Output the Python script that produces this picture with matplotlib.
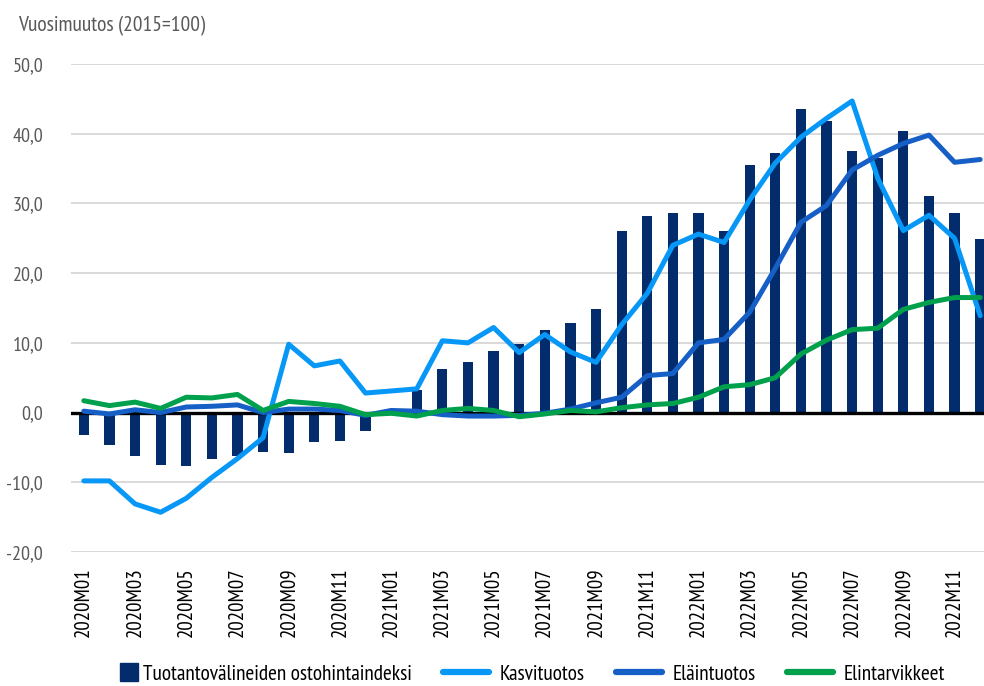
import matplotlib
matplotlib.use("Agg")
import matplotlib.pyplot as plt
import numpy as np
from matplotlib.lines import Line2D
from matplotlib.patches import Rectangle
from matplotlib.legend_handler import HandlerPatch
from matplotlib.ticker import FuncFormatter

plt.rcParams["font.family"] = ["PT Sans Narrow", "DejaVu Sans"]

# ---- data ----
months = [f"{y}M{m:02d}" for y in (2020, 2021, 2022) for m in range(1, 13)]

ostohinta = [-3.2, -4.6, -6.3, -7.5, -7.6, -6.6, -6.3, -5.6, -5.8, -4.2, -4.1, -2.6,
             0.3, 3.2, 6.2, 7.2, 8.8, 9.9, 11.8, 12.8, 14.8, 26.1, 28.2, 28.6,
             28.6, 26.0, 35.5, 37.3, 43.5, 41.8, 37.5, 36.5, 40.4, 31.0, 28.6, 24.9]
kasvituotos = [-9.8, -9.8, -13.1, -14.3, -12.3, -9.3, -6.6, -3.6, 9.8, 6.7, 7.4, 2.8,
               3.1, 3.4, 10.3, 10.0, 12.2, 8.6, 11.2, 8.7, 7.2, 12.6, 17.1, 24.0,
               25.6, 24.4, 30.5, 35.8, 39.5, 42.2, 44.7, 33.6, 26.1, 28.3, 25.0, 13.9]
elaintuotos = [0.2, -0.2, 0.4, 0.0, 0.8, 0.9, 1.1, 0.0, 0.5, 0.5, 0.3, -0.4,
               0.3, 0.2, -0.3, -0.5, -0.5, -0.4, -0.1, 0.5, 1.4, 2.2, 5.3, 5.6,
               10.0, 10.5, 14.4, 20.7, 27.3, 29.7, 34.8, 36.9, 38.6, 39.8, 35.9, 36.3]
elintarvikkeet = [1.7, 1.0, 1.5, 0.6, 2.2, 2.1, 2.6, 0.3, 1.6, 1.3, 0.9, -0.3,
                  -0.1, -0.5, 0.3, 0.6, 0.3, -0.6, -0.2, 0.3, 0.1, 0.7, 1.1, 1.3,
                  2.2, 3.7, 4.0, 5.0, 8.4, 10.4, 11.9, 12.1, 14.8, 15.8, 16.5, 16.5]

BAR_C = "#022c6b"
KASVI_C = "#0797f7"
ELAIN_C = "#155fc6"
ELINT_C = "#00a04d"

x = np.arange(len(months))

fig = plt.figure(figsize=(9.84, 6.86), dpi=100)
# oikea reuna menee hieman kuvan yli, kuten alkuperäisessä (viimeinen pylväs leikkautuu)
ax = fig.add_axes([71 / 984, 1 - 552 / 686, 922 / 984, (552 - 64) / 686])

ax.bar(x, ostohinta, width=0.4, color=BAR_C, zorder=2)
ax.axhline(0, color="black", lw=2.4, zorder=3)
line_kw = dict(lw=3.6, zorder=4, solid_capstyle="round", solid_joinstyle="round")
ax.plot(x, kasvituotos, color=KASVI_C, **line_kw)
ax.plot(x, elaintuotos, color=ELAIN_C, **line_kw)
ax.plot(x, elintarvikkeet, color=ELINT_C, **line_kw)

ax.set_xlim(-0.5, len(months) - 0.5)
ax.set_ylim(-20, 50)
ax.set_yticks(np.arange(-20, 51, 10))
ax.yaxis.set_major_formatter(FuncFormatter(lambda v, _: f"{v:.1f}".replace(".", ",")))
ax.grid(axis="y", color="#d9d9d9", lw=1.4, zorder=0)
ax.set_axisbelow(True)
for s in ax.spines.values():
    s.set_visible(False)

ax.set_xticks(x[::2])
ax.set_xticklabels(months[::2], rotation=90, fontsize=15, color="black")
ax.tick_params(axis="x", length=0, pad=11)
ax.tick_params(axis="y", length=0, pad=20, labelsize=14.5, labelcolor="#595959")

fig.text(18 / 984, 1 - 26 / 686, "Vuosimuutos (2015=100)", fontsize=15.5,
         color="#595959", va="center", ha="left")


def square_patch(legend, orig_handle, xdescent, ydescent, width, height, fontsize):
    # pylväsmerkki: pieni neliö kahvan oikeassa reunassa
    s = height * 1.2
    return Rectangle((width - xdescent - s + 4, -ydescent + (height - s) / 2), s, s)


handles = [Rectangle((0, 0), 1, 1, color=BAR_C),
           Line2D([], [], color=KASVI_C, lw=4.5, solid_capstyle="round"),
           Line2D([], [], color=ELAIN_C, lw=4.5, solid_capstyle="round"),
           Line2D([], [], color=ELINT_C, lw=4.5, solid_capstyle="round")]
labels = ["Tuotantovälineiden ostohintaindeksi", "Kasvituotos", "Eläintuotos",
          "Elintarvikkeet"]
fig.legend(handles, labels, loc="center", bbox_to_anchor=(0.524, 1 - 674 / 686),
           ncol=4, frameon=False, fontsize=15.4, handlelength=2.15,
           columnspacing=1.45, handletextpad=0.5, borderpad=0.1,
           handler_map={Rectangle: HandlerPatch(patch_func=square_patch)})

fig.savefig("out.png", dpi=100)
